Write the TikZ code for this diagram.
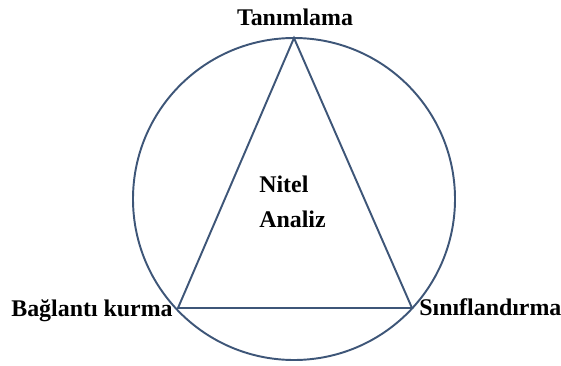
\documentclass[tikz,border=0pt]{standalone}
\usepackage{fontspec}
\setmainfont{Liberation Serif}
\definecolor{linecol}{HTML}{3E5678}

\begin{document}
\begin{tikzpicture}[x=0.02cm, y=-0.02cm,
    edge/.style={draw=linecol, line width=1.1pt},
    lbl/.style={inner sep=0pt, font=\fontsize{13.6}{19.5}\selectfont\bfseries}]
  \useasboundingbox (0,0) rectangle (561,365);
  \coordinate (O) at (294,199);
  % köşeler
  \coordinate (T) at (294,38);
  \coordinate (L) at (178,308);
  \coordinate (R) at (412,308);

  \draw[edge] (O) circle (161);
  \draw[edge, line join=miter] (T) -- (L) -- (R) -- cycle;

  \node[lbl, anchor=base] (tan) at (295,26) {Tanımlama};
  \node[lbl, anchor=base east] (bag) at (173,316) {Bağlantı kurma};
  \node[lbl, anchor=base west] (sin) at (419,315) {Sınıflandırma};
  \node[lbl, align=left, anchor=base west] (nit) at (259,227) {Nitel\\Analiz};
\end{tikzpicture}
\end{document}
